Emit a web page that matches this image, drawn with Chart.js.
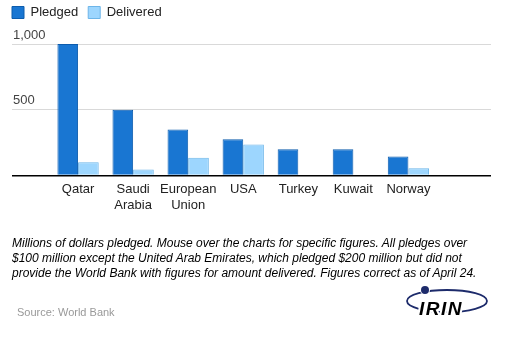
<!DOCTYPE html>
<html>
<head>
<meta charset="utf-8">
<script src="https://cdn.jsdelivr.net/npm/chart.js@4.4.1/dist/chart.umd.min.js"></script>
<style>
  html, body { margin: 0; padding: 0; background: #fff; }
  body { width: 517px; height: 350px; position: relative; overflow: hidden; font-family: Arial, "Liberation Sans", sans-serif; }
  #wrap { position: absolute; left: 0; top: 0; width: 517px; height: 350px; }
  #note { position: absolute; left: 12px; top: 236px; font-size: 12px; font-style: italic; line-height: 15px; color: #000; white-space: nowrap; }
  #source { position: absolute; left: 17px; top: 306px; font-size: 11px; color: #999; }
  #logo { position: absolute; left: 400px; top: 282px; }
</style>
</head>
<body>
<div id="wrap"><canvas id="c" width="517" height="350"></canvas></div>
<div id="note">Millions of dollars pledged. Mouse over the charts for specific figures. All pledges over<br>$100 million except the United Arab Emirates, which pledged $200 million but did not<br>provide the World Bank with figures for amount delivered. Figures correct as of April 24.</div>
<div id="source">Source: World Bank</div>
<svg id="logo" width="100" height="40" viewBox="0 0 100 40">
  <ellipse cx="47" cy="19" rx="40" ry="11" fill="none" stroke="#1d2b6b" stroke-width="1.8"/>
  <circle cx="25" cy="8" r="4" fill="#1d2b6b" stroke="#fff" stroke-width="2" paint-order="stroke"/>
  <text x="19" y="33" font-family="Arial, 'Liberation Sans', sans-serif" font-size="19" font-weight="bold" font-style="italic" fill="#000" stroke="#fff" stroke-width="4" paint-order="stroke" letter-spacing="1.5">IRIN</text>
</svg>
<script>
const categories = ["Qatar", ["Saudi", "Arabia"], ["European", "Union"], "USA", "Turkey", "Kuwait", "Norway", ""];
const pledged   = [1000, 500, 350, 275, 200, 200, 145, null];
const delivered = [100, 45, 135, 235, -6, null, 55, null];
const yTicks = [0, 500, 1000];
const yTickLabels = ["", "500", "1,000"];

const toPoints = arr => arr.map((v, i) => ({ x: i, y: v })).filter(p => p.y !== null);

const legendSpacer = {
  id: 'legendSpacer',
  beforeLayout(chart) {
    const lg = chart.legend;
    if (lg && !lg._patched) {
      const orig = lg.fit;
      lg.fit = function () { orig.call(this); this.height += 15; };
      lg._patched = true;
    }
  }
};

new Chart(document.getElementById('c'), {
  type: 'bar',
  data: {
    datasets: [
      { label: 'Pledged', data: toPoints(pledged), backgroundColor: '#1976d2', borderColor: '#0d5cad', borderWidth: 1, borderSkipped: 'start' },
      { label: 'Delivered', data: toPoints(delivered), backgroundColor: '#9dd6fe', borderColor: '#6db5e8', borderWidth: 1, borderSkipped: 'start' }
    ]
  },
  plugins: [legendSpacer],
  options: {
    responsive: false,
    animation: false,
    categoryPercentage: 0.75,
    barPercentage: 1.0,
    layout: { padding: { left: 2, right: 26, top: -4, bottom: 132 } },
    plugins: {
      legend: {
        position: 'top',
        align: 'start',
        labels: {
          boxWidth: 12, boxHeight: 12, padding: 10,
          color: '#222',
          font: { family: 'Arial, "Liberation Sans", sans-serif', size: 13 }
        }
      },
      tooltip: { enabled: false }
    },
    scales: {
      x: {
        type: 'linear',
        offset: false,
        min: -1.2,
        max: 7.5,
        grid: { display: false, drawTicks: false },
        border: { display: false },
        afterBuildTicks: s => { s.ticks = categories.map((c, i) => ({ value: i })); },
        ticks: {
          autoSkip: false, maxRotation: 0, padding: 5,
          color: '#222',
          font: { family: 'Arial, "Liberation Sans", sans-serif', size: 13 },
          callback: (v) => categories[v]
        }
      },
      y: {
        min: -10,
        max: 1000,
        afterBuildTicks: s => { s.ticks = yTicks.map(v => ({ value: v })); },
        afterFit: s => { s.width = 10; },
        grid: {
          drawTicks: false,
          color: ctx => ctx.tick && ctx.tick.value === 0 ? '#000' : '#d9d9d9',
          lineWidth: ctx => ctx.tick && ctx.tick.value === 0 ? 1.5 : 1
        },
        border: { display: false },
        ticks: {
          mirror: true, padding: 1, labelOffset: -9,
          color: '#444',
          font: { family: 'Arial, "Liberation Sans", sans-serif', size: 13 },
          callback: (v) => yTickLabels[yTicks.indexOf(v)]
        }
      }
    }
  }
});
</script>
</body>
</html>
